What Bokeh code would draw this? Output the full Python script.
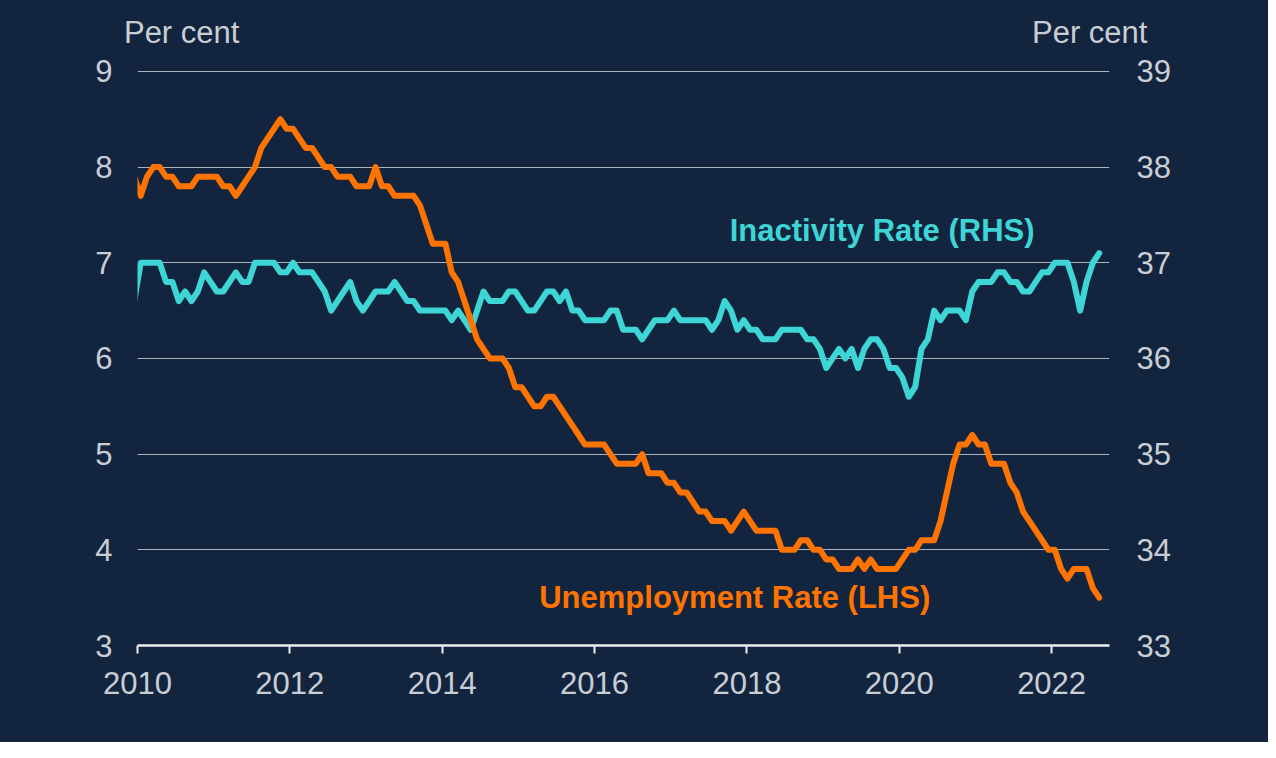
import pandas as pd
from bokeh.plotting import figure
from bokeh.models import Range1d, LinearAxis, FixedTicker, Label
from bokeh.embed import file_html
from bokeh.resources import INLINE

# ---- data (monthly, Dec 2009 .. Aug 2022) ----
months = pd.date_range("2009-12-01", "2022-08-01", freq="MS")

unemployment = [
    7.9,
    7.7, 7.9, 8.0, 8.0, 7.9, 7.9, 7.8, 7.8, 7.8, 7.9,
    7.9, 7.9, 7.9, 7.8, 7.8, 7.7, 7.8, 7.9, 8.0, 8.2,
    8.3, 8.4, 8.5, 8.4, 8.4, 8.3, 8.2, 8.2, 8.1, 8.0,
    8.0, 7.9, 7.9, 7.9, 7.8, 7.8, 7.8, 8.0, 7.8, 7.8,
    7.7, 7.7, 7.7, 7.7, 7.6, 7.4, 7.2, 7.2, 7.2, 6.9,
    6.8, 6.6, 6.4, 6.2, 6.1, 6.0, 6.0, 6.0, 5.9, 5.7,
    5.7, 5.6, 5.5, 5.5, 5.6, 5.6, 5.5, 5.4, 5.3, 5.2,
    5.1, 5.1, 5.1, 5.1, 5.0, 4.9, 4.9, 4.9, 4.9, 5.0,
    4.8, 4.8, 4.8, 4.7, 4.7, 4.6, 4.6, 4.5, 4.4, 4.4,
    4.3, 4.3, 4.3, 4.2, 4.3, 4.4, 4.3, 4.2, 4.2, 4.2,
    4.2, 4.0, 4.0, 4.0, 4.1, 4.1, 4.0, 4.0, 3.9, 3.9,
    3.8, 3.8, 3.8, 3.9, 3.8, 3.9, 3.8, 3.8, 3.8, 3.8,
    3.9, 4.0, 4.0, 4.1, 4.1, 4.1, 4.3, 4.6, 4.9, 5.1,
    5.1, 5.2, 5.1, 5.1, 4.9, 4.9, 4.9, 4.7, 4.6, 4.4,
    4.3, 4.2, 4.1, 4.0, 4.0, 3.8, 3.7, 3.8, 3.8, 3.8, 3.6, 3.5,
]

inactivity = [
    36.6,
    37.0, 37.0, 37.0, 37.0, 36.8, 36.8, 36.6, 36.7, 36.6, 36.7,
    36.9, 36.8, 36.7, 36.7, 36.8, 36.9, 36.8, 36.8, 37.0, 37.0,
    37.0, 37.0, 36.9, 36.9, 37.0, 36.9, 36.9, 36.9, 36.8, 36.7,
    36.5, 36.6, 36.7, 36.8, 36.6, 36.5, 36.6, 36.7, 36.7, 36.7,
    36.8, 36.7, 36.6, 36.6, 36.5, 36.5, 36.5, 36.5, 36.5, 36.4,
    36.5, 36.4, 36.3, 36.5, 36.7, 36.6, 36.6, 36.6, 36.7, 36.7,
    36.6, 36.5, 36.5, 36.6, 36.7, 36.7, 36.6, 36.7, 36.5, 36.5,
    36.4, 36.4, 36.4, 36.4, 36.5, 36.5, 36.3, 36.3, 36.3, 36.2,
    36.3, 36.4, 36.4, 36.4, 36.5, 36.4, 36.4, 36.4, 36.4, 36.4,
    36.3, 36.4, 36.6, 36.5, 36.3, 36.4, 36.3, 36.3, 36.2, 36.2,
    36.2, 36.3, 36.3, 36.3, 36.3, 36.2, 36.2, 36.1, 35.9, 36.0,
    36.1, 36.0, 36.1, 35.9, 36.1, 36.2, 36.2, 36.1, 35.9, 35.9,
    35.8, 35.6, 35.7, 36.1, 36.2, 36.5, 36.4, 36.5, 36.5, 36.5,
    36.4, 36.7, 36.8, 36.8, 36.8, 36.9, 36.9, 36.8, 36.8, 36.7,
    36.7, 36.8, 36.9, 36.9, 37.0, 37.0, 37.0, 36.8, 36.5, 36.8, 37.0, 37.1,
]

x_ticks = [2010, 2012, 2014, 2016, 2018, 2020, 2022]
lhs_ticks = [3, 4, 5, 6, 7, 8, 9]
rhs_ticks = [33, 34, 35, 36, 37, 38, 39]
unit_label = "Per cent"
series_labels = ["Inactivity Rate (RHS)", "Unemployment Rate (LHS)"]

# decimal-year positions (mid-month)
xpos = [d.year + (d.month - 0.5) / 12 for d in months]

# ---- styling ----
BG = "#13253e"
TXT = "#c9ced6"
GRID = "#aeb4bd"
AXIS = "#eceef1"
ORANGE = "#ff7300"
CYAN = "#3dd5d6"
FONT = "Liberation Sans"
FS = "31px"

# tiny headroom above 9 / 39 so the top gridline is not clipped by the frame
p = figure(width=1268, height=742, output_backend="svg", toolbar_location=None,
           x_range=Range1d(2010, 2022.76), y_range=Range1d(3, 9.02),
           min_border_left=137, min_border_right=159, min_border_top=69,
           min_border_bottom=97)
# navy page behind the canvas (avoids seams at the frame edges)
p.styles = {"background-color": BG}
p.background_fill_color = BG
p.border_fill_color = None
p.outline_line_color = None

p.extra_y_ranges = {"rhs": Range1d(33, 39.02)}

# grid
p.xgrid.grid_line_color = None
p.ygrid.ticker = FixedTicker(ticks=[4, 5, 6, 7, 8, 9])
p.ygrid.grid_line_color = GRID
p.ygrid.grid_line_width = 1

# bottom axis
xa = p.xaxis[0]
xa.ticker = FixedTicker(ticks=x_ticks)
xa.axis_line_color = AXIS
xa.axis_line_width = 2.5
xa.major_tick_line_color = AXIS
xa.major_tick_line_width = 2
xa.major_tick_in = 0
xa.major_tick_out = 8
xa.minor_tick_line_color = None
xa.major_label_text_color = TXT
xa.major_label_text_font = FONT
xa.major_label_text_font_size = FS
xa.major_label_standoff = 18

# left axis
ya = p.yaxis[0]
ya.ticker = FixedTicker(ticks=lhs_ticks)
ya.axis_line_color = None
ya.major_tick_line_color = None
ya.minor_tick_line_color = None
ya.major_label_text_color = TXT
ya.major_label_text_font = FONT
ya.major_label_text_font_size = FS
ya.major_label_standoff = 19

# right axis
ra = LinearAxis(y_range_name="rhs", ticker=FixedTicker(ticks=rhs_ticks))
ra.axis_line_color = None
ra.major_tick_line_color = None
ra.minor_tick_line_color = None
ra.major_label_text_color = TXT
ra.major_label_text_font = FONT
ra.major_label_text_font_size = FS
ra.major_label_standoff = 21
p.add_layout(ra, "right")

# "Per cent" unit labels, drawn as the labels of a tickless axis above the frame
unit_pos = [2010.58, 2022.5]
ta = LinearAxis(ticker=FixedTicker(ticks=unit_pos),
                major_label_overrides={v: unit_label for v in unit_pos})
ta.axis_line_color = None
ta.major_tick_line_color = None
ta.minor_tick_line_color = None
ta.major_label_text_color = TXT
ta.major_label_text_font = FONT
ta.major_label_text_font_size = FS
ta.major_label_standoff = 14
p.add_layout(ta, "above")

# lines
p.line(xpos, inactivity, y_range_name="rhs", line_color=CYAN, line_width=6,
       line_join="round", line_cap="round")
p.line(xpos, unemployment, line_color=ORANGE, line_width=6,
       line_join="round", line_cap="round")

# series labels
p.add_layout(Label(x=2019.775, y=7.34, text=series_labels[0],
                   text_color=CYAN, text_font=FONT, text_font_style="bold",
                   text_font_size=FS, text_align="center", text_baseline="middle"))
p.add_layout(Label(x=2017.84, y=3.50, text=series_labels[1],
                   text_color=ORANGE, text_font=FONT, text_font_style="bold",
                   text_font_size=FS, text_align="center", text_baseline="middle"))

open("out.html", "w").write(file_html(p, INLINE))
